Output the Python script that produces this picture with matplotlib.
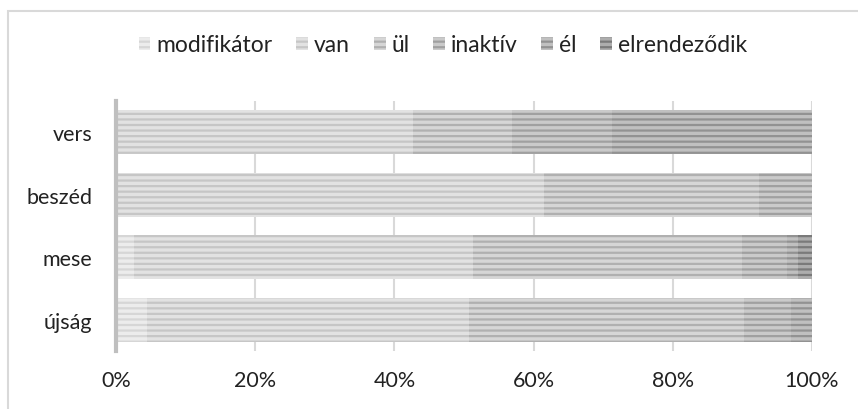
import matplotlib
matplotlib.use("Agg")
import matplotlib.pyplot as plt
from matplotlib.patches import Rectangle, Patch
import numpy as np

plt.rcParams['font.family'] = ['Lato', 'DejaVu Sans']
plt.rcParams['hatch.linewidth'] = 1.6

categories = ["vers", "beszéd", "mese", "újság"]
series = ["modifikátor", "van", "ül", "inaktív", "él", "elrendeződik"]
modifikator = [0.0, 0.0, 2.6, 4.5]
van = [42.7, 61.5, 48.7, 46.2]
ul = [14.2, 30.9, 38.7, 39.5]
inaktiv = [14.4, 7.6, 6.4, 6.8]
el = [28.7, 0.0, 1.6, 3.0]
elrendezodik = [0.0, 0.0, 2.0, 0.0]
values = [modifikator, van, ul, inaktiv, el, elrendezodik]
tick_labels = ["0%", "20%", "40%", "60%", "80%", "100%"]

face_colors = ["#ececec", "#e2e2e2", "#d6d6d6", "#cacaca", "#c0c0c0", "#adadad"]
stripe_colors = ["#d6d6d6", "#c6c6c6", "#b0b0b0", "#a0a0a0", "#929292", "#7a7a7a"]

fig = plt.figure(figsize=(8.58, 4.10), dpi=100)
ax = fig.add_axes([116/858, 1-352/410, (812-116)/858, (352-102)/410])

y = np.arange(len(categories))[::-1]
left = np.zeros(len(categories))
for name, vals, fc, sc in zip(series, values, face_colors, stripe_colors):
    v = np.array(vals)
    ax.barh(y, v, left=left, height=0.71, color=fc, edgecolor=sc,
            hatch='---', linewidth=0, label=name, zorder=3)
    left += v

ax.set_xlim(0, 100)
ax.set_ylim(-0.5, 3.5)
ax.set_xticks(np.arange(0, 101, 20))
ax.set_xticklabels(tick_labels, fontsize=15.5, color="#222222")
ax.set_yticks(y)
ax.set_yticklabels(categories, fontsize=15.5, color="#222222")
ax.tick_params(axis='both', length=0)
ax.tick_params(axis='x', pad=14)
ax.tick_params(axis='y', pad=17)
ax.grid(axis='x', color="#d9d9d9", linewidth=1.5, zorder=0)
for s in ['top', 'right', 'bottom']:
    ax.spines[s].set_visible(False)
ax.spines['left'].set_color("#bfbfbf")
ax.spines['left'].set_linewidth(3)
ax.spines['left'].set_zorder(4)

handles = [Patch(facecolor=fc, edgecolor=sc, hatch='---', linewidth=0)
           for fc, sc in zip(face_colors, stripe_colors)]
fig.legend(handles, series, loc='center', bbox_to_anchor=(443/858, 1-46/410),
           ncol=6, frameon=False, fontsize=16.5, handlelength=0.52,
           handleheight=0.52, handletextpad=0.26, columnspacing=1.03,
           labelcolor="#222222")

fig.add_artist(Rectangle((8/858, -0.1), 1.2, 1-12/410+0.1, transform=fig.transFigure,
                         fill=False, edgecolor="#d9d9d9", linewidth=1.5))

fig.savefig("out.png", dpi=100)
